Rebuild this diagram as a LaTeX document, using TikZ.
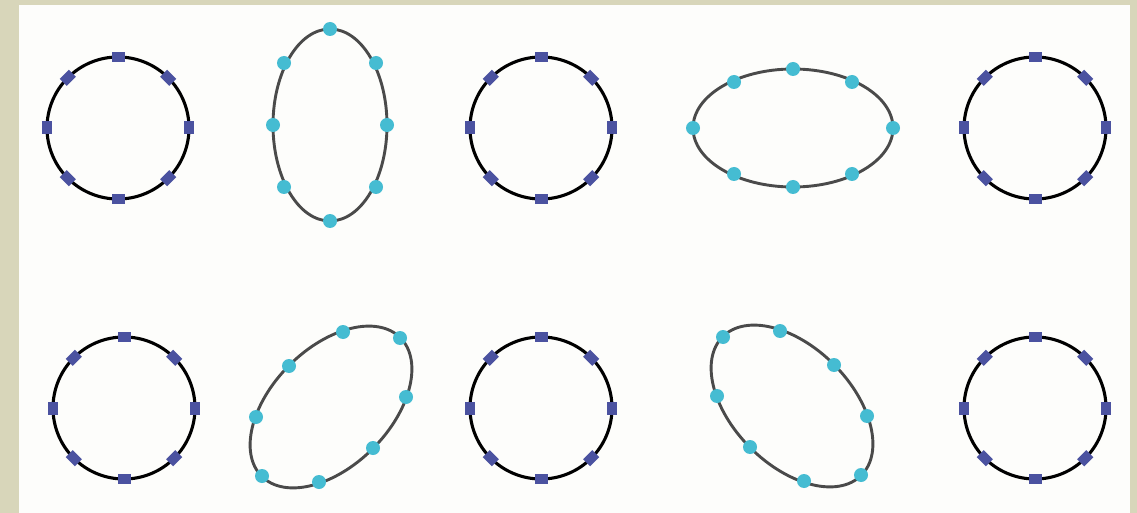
\documentclass[tikz,border=0pt]{standalone}
\definecolor{bgbeige}{HTML}{D8D6BA}
\definecolor{panelwhite}{HTML}{FDFDFB}
\definecolor{ovalgray}{HTML}{4A4A4A}
\definecolor{dotblue}{HTML}{4B52A0}
\definecolor{dotcyan}{HTML}{45BCD2}
\begin{document}
\begin{tikzpicture}[x=1pt,y=-1pt,
  ring/.style={line width=3.1pt, draw=black},
  oval/.style={line width=2.9pt, draw=ovalgray},
  bdot/.style={rectangle, fill=dotblue, minimum width=13pt, minimum height=10pt, inner sep=0pt},
  cdot/.style={circle, fill=dotcyan, minimum size=14pt, inner sep=0pt}]
\useasboundingbox (0,0) rectangle (1137,513);
\fill[bgbeige] (0,0) rectangle (1137,513);
\fill[panelwhite] (19,5) rectangle (1130,513);
% circles
\foreach \cx/\cy/\nm in {118/128/c1, 541/128/c3, 1035/128/c5, 124/408/c6, 541/408/c8, 1035/408/c10}{
  \begin{scope}[shift={(\cx,\cy)}]
    \coordinate (\nm) at (0,0);
    \draw[ring] (\nm) circle[radius=71pt];
    \foreach \a in {0,45,...,315}
      \node[bdot, rotate=\a+90] (\nm-\a) at (\a:71pt) {};
  \end{scope}
}
% vertical ellipse
\coordinate (e2) at (330,125);
\draw[oval] (e2) ellipse[x radius=57pt, y radius=96pt];
\begin{scope}[shift={(e2)}]
  \foreach \px/\py [count=\i] in {0/-96, 46/-62, 57/0, 46/62, 0/96, -46/62, -57/0, -46/-62}
    \node[cdot] (e2-\i) at (\px,\py) {};
\end{scope}
% horizontal ellipse
\coordinate (e4) at (793,128);
\draw[oval] (e4) ellipse[x radius=100pt, y radius=59pt];
\begin{scope}[shift={(e4)}]
  \foreach \px/\py [count=\i] in {0/-59, 59/-46, 100/0, 59/46, 0/59, -59/46, -100/0, -59/-46}
    \node[cdot] (e4-\i) at (\px,\py) {};
\end{scope}
% tilted ellipse /
\coordinate (e7) at (331,407);
\draw[oval, rotate around={45:(e7)}] (e7) ellipse[x radius=98pt, y radius=59pt];
\begin{scope}[shift={(e7)}]
  \foreach \px/\py [count=\i] in {12/-75, 69/-69, 75/-10, 42/41, -12/75, -69/69, -75/10, -42/-41}
    \node[cdot] (e7-\i) at (\px,\py) {};
\end{scope}
% tilted ellipse \
\coordinate (e9) at (792,406);
\draw[oval, rotate around={-45:(e9)}] (e9) ellipse[x radius=98pt, y radius=59pt];
\begin{scope}[shift={(e9)}]
  \foreach \px/\py [count=\i] in {-12/-75, -69/-69, -75/-10, -42/41, 12/75, 69/69, 75/10, 42/-41}
    \node[cdot] (e9-\i) at (\px,\py) {};
\end{scope}
\end{tikzpicture}
\end{document}
